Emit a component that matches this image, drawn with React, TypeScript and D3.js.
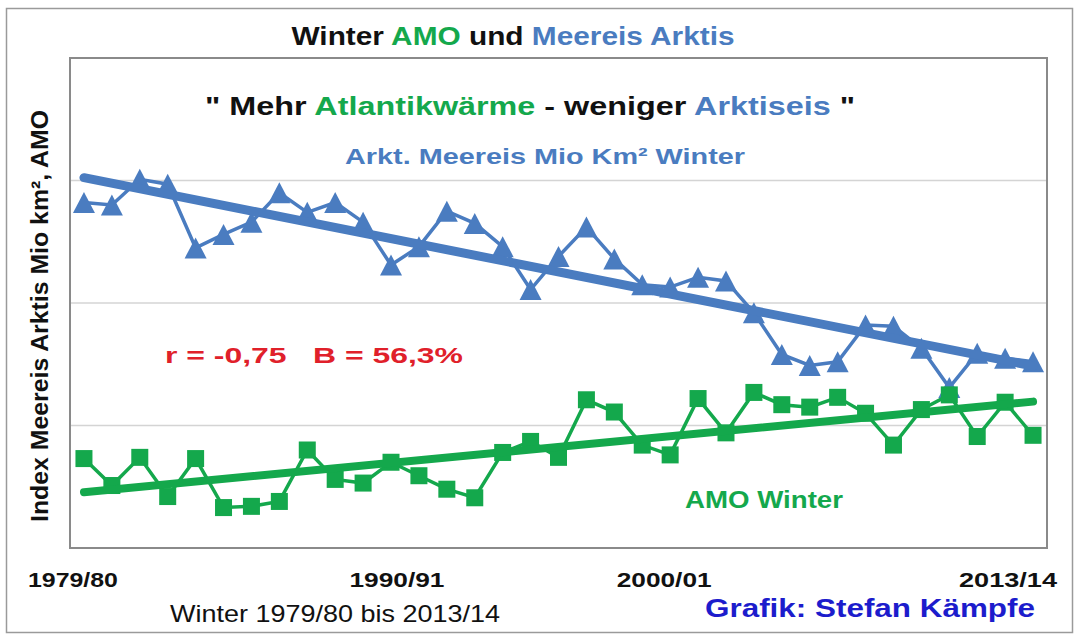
import React from 'react';
import * as d3 from 'd3';

// Winters (categories)
const winters = [
  '1979/80', '1980/81', '1981/82', '1982/83', '1983/84', '1984/85', '1985/86',
  '1986/87', '1987/88', '1988/89', '1989/90', '1990/91', '1991/92', '1992/93',
  '1993/94', '1994/95', '1995/96', '1996/97', '1997/98', '1998/99', '1999/00',
  '2000/01', '2001/02', '2002/03', '2003/04', '2004/05', '2005/06', '2006/07',
  '2007/08', '2008/09', '2009/10', '2010/11', '2011/12', '2012/13', '2013/14',
];

// Arctic sea ice index (scaled, Mio km²)
const seaIce = [
  2.82, 2.80, 3.01, 2.97, 2.45, 2.56, 2.66, 2.90, 2.74, 2.82, 2.66, 2.31,
  2.46, 2.75, 2.65, 2.46, 2.11, 2.38, 2.62, 2.36, 2.15, 2.13, 2.21, 2.18,
  1.92, 1.58, 1.49, 1.52, 1.82, 1.81, 1.63, 1.31, 1.59, 1.55, 1.52,
];

// AMO winter index (scaled)
const amo = [
  0.73, 0.51, 0.74, 0.42, 0.73, 0.33, 0.34, 0.38, 0.80, 0.56, 0.53, 0.70,
  0.59, 0.48, 0.41, 0.78, 0.87, 0.74, 1.21, 1.11, 0.84, 0.76, 1.22, 0.94,
  1.27, 1.17, 1.15, 1.23, 1.10, 0.84, 1.13, 1.25, 0.91, 1.19, 0.92,
];

const tickLabels = ['1979/80', '1990/91', '2000/01', '2013/14'];
const gridValues = [1, 2, 3];

const BLUE = '#4a7cc0';
const GREEN = '#14a84c';
const FONT = '"Liberation Sans", Arial, sans-serif';

function linReg(vals: number[]) {
  const n = vals.length;
  const xs = d3.range(n);
  const mx = d3.mean(xs) as number;
  const my = d3.mean(vals) as number;
  let sxy = 0, sxx = 0;
  for (let i = 0; i < n; i++) {
    sxy += (xs[i] - mx) * (vals[i] - my);
    sxx += (xs[i] - mx) * (xs[i] - mx);
  }
  const b = sxy / sxx;
  const a = my - b * mx;
  return (i: number) => a + b * i;
}

export default function App() {
  const W = 1076, H = 635;
  const plot = { left: 70, right: 1047, top: 58, bottom: 548 };

  const x = d3.scalePoint<string>().domain(winters).range([plot.left, plot.right]).padding(0.5);
  const y = d3.scaleLinear().domain([0, 4]).range([plot.bottom, plot.top]);

  const line = d3.line<number>().x((_, i) => x(winters[i]) as number).y((d) => y(d));

  const iceFit = linReg(seaIce);
  const amoFit = linReg(amo);
  const last = winters.length - 1;
  const trendPath = (f: (i: number) => number) =>
    `M${x(winters[0])},${y(f(0))}L${x(winters[last])},${y(f(last))}`;

  const tri = (cx: number, cy: number) => {
    const w = 22, h = 21;
    return `M${cx},${cy - h / 2}L${cx + w / 2},${cy + h / 2}L${cx - w / 2},${cy + h / 2}Z`;
  };
  const sq = 17;

  const tickDx: Record<string, number> = { '1979/80': -11, '1990/91': 6, '2000/01': -6, '2013/14': -25 };
  const tickW: Record<string, number> = { '1979/80': 90, '1990/91': 95, '2000/01': 95, '2013/14': 98 };

  return (
    <svg width={W} height={H} style={{ position: 'absolute', left: 0, top: 0, background: '#fff' }} fontFamily={FONT}>
      <rect x={0} y={0} width={W} height={H} fill="#fff" />
      {/* outer frame */}
      <rect x={6.5} y={8.5} width={1066} height={624} fill="none" stroke="#9a9a9a" strokeWidth={1.5} />

      {/* title */}
      <text x={513} y={45} textAnchor="middle" fontSize={25} fontWeight="bold" textLength={443} lengthAdjust="spacingAndGlyphs">
        <tspan fill="#111">Winter </tspan>
        <tspan fill={GREEN}>AMO</tspan>
        <tspan fill="#111"> und </tspan>
        <tspan fill={BLUE}>Meereis Arktis</tspan>
      </text>

      {/* plot area */}
      {gridValues.map((g) => (
        <line key={g} x1={plot.left} x2={plot.right} y1={y(g)} y2={y(g)} stroke="#d4d4d4" strokeWidth={1.5} />
      ))}
      <rect x={plot.left} y={plot.top} width={plot.right - plot.left} height={plot.bottom - plot.top}
        fill="none" stroke="#8a8a8a" strokeWidth={2} />

      {/* subtitle */}
      <text x={530} y={115} textAnchor="middle" fontSize={25} fontWeight="bold" textLength={650} lengthAdjust="spacingAndGlyphs">
        <tspan fill="#111">" Mehr </tspan>
        <tspan fill={GREEN}>Atlantikwärme</tspan>
        <tspan fill="#111"> - weniger </tspan>
        <tspan fill={BLUE}>Arktiseis</tspan>
        <tspan fill="#111"> "</tspan>
      </text>
      <text x={545} y={164} textAnchor="middle" fontSize={22} fontWeight="bold" fill={BLUE} textLength={400} lengthAdjust="spacingAndGlyphs">
        Arkt. Meereis Mio Km² Winter
      </text>
      <text x={314} y={363} textAnchor="middle" fontSize={22} fontWeight="bold" fill="#e0202a" textLength={298} lengthAdjust="spacingAndGlyphs" xmlSpace="preserve">
        r = -0,75   B = 56,3%
      </text>
      <text x={764} y={508} textAnchor="middle" fontSize={23} fontWeight="bold" fill={GREEN} textLength={158} lengthAdjust="spacingAndGlyphs">
        AMO Winter
      </text>

      {/* sea ice series */}
      <path d={line(seaIce) as string} fill="none" stroke={BLUE} strokeWidth={3.5} />
      {seaIce.map((v, i) => (
        <path key={i} d={tri(x(winters[i]) as number, y(v))} fill={BLUE} />
      ))}
      <path d={trendPath(iceFit)} stroke={BLUE} strokeWidth={9} strokeLinecap="round" fill="none" />

      {/* AMO series */}
      <path d={line(amo) as string} fill="none" stroke={GREEN} strokeWidth={3.5} />
      {amo.map((v, i) => (
        <rect key={i} x={(x(winters[i]) as number) - sq / 2} y={y(v) - sq / 2} width={sq} height={sq} fill={GREEN} />
      ))}
      <path d={trendPath(amoFit)} stroke={GREEN} strokeWidth={8} strokeLinecap="round" fill="none" />

      {/* y axis title */}
      <text transform={`translate(48,316) rotate(-90)`} textAnchor="middle" fontSize={24} fontWeight="bold" fill="#111" textLength={412} lengthAdjust="spacingAndGlyphs">
        Index Meereis Arktis Mio km², AMO
      </text>

      {/* x tick labels */}
      {tickLabels.map((t) => (
        <text key={t} x={(x(t) as number) + tickDx[t]} y={587} textAnchor="middle" fontSize={21} fontWeight="bold" fill="#111" textLength={tickW[t]} lengthAdjust="spacingAndGlyphs">
          {t}
        </text>
      ))}

      <text x={335} y={622} textAnchor="middle" fontSize={24} fill="#111" textLength={330} lengthAdjust="spacingAndGlyphs">
        Winter 1979/80 bis 2013/14
      </text>
      <text x={870} y={617} textAnchor="middle" fontSize={25} fontWeight="bold" fill="#1c1ccc" textLength={330} lengthAdjust="spacingAndGlyphs">
        Grafik: Stefan Kämpfe
      </text>
    </svg>
  );
}
